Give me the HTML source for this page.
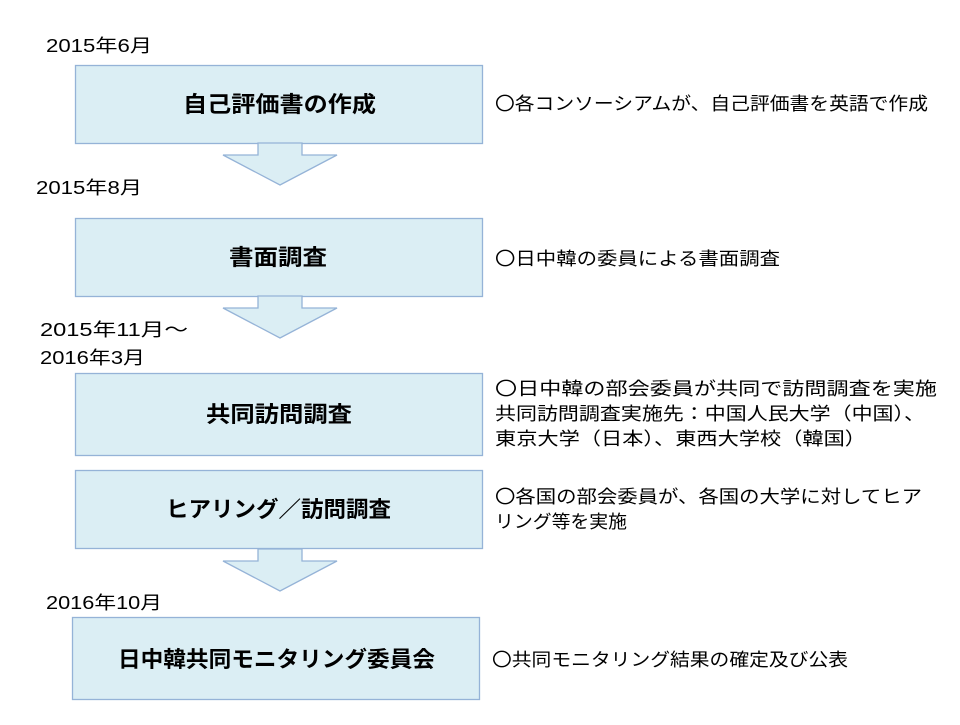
<!DOCTYPE html>
<html><head><meta charset="utf-8"><style>
body{margin:0;background:#fff;}
svg text{font-family:"Liberation Sans","Noto Sans CJK JP",sans-serif;}
</style></head><body>
<svg width="960" height="720" xmlns="http://www.w3.org/2000/svg">
<g fill="#dbeef4" stroke="#95b3d7" stroke-width="1.3">
<rect x="75.5" y="65.5" width="407" height="78"/>
<rect x="75.5" y="218.5" width="407" height="78"/>
<rect x="75.5" y="373.5" width="407" height="82"/>
<rect x="75.5" y="470.5" width="407" height="78"/>
<rect x="72.5" y="617.5" width="407" height="82"/>
<polygon points="258,143 302,143 302,155 337,155 280,185 223,155 258,155"/>
<polygon points="258,296 302,296 302,308 337,308 280,338 223,308 258,308"/>
<polygon points="258,549 302,549 302,561 337,561 280,591 223,561 258,561"/>
</g>
<g font-size="18" fill="#000">
<text x="46" y="52" textLength="106" lengthAdjust="spacingAndGlyphs">2015年6月</text>
<text x="36" y="194" textLength="106" lengthAdjust="spacingAndGlyphs">2015年8月</text>
<text x="40" y="336" textLength="148" lengthAdjust="spacingAndGlyphs">2015年11月～</text>
<text x="40" y="364" textLength="105" lengthAdjust="spacingAndGlyphs">2016年3月</text>
<text x="46" y="609" textLength="116" lengthAdjust="spacingAndGlyphs">2016年10月</text>
</g>
<g font-size="22" font-weight="bold" fill="#000">
<text x="183" y="112" textLength="193" lengthAdjust="spacingAndGlyphs">自己評価書の作成</text>
<text x="229" y="265" textLength="98" lengthAdjust="spacingAndGlyphs">書面調査</text>
<text x="206" y="422" textLength="146" lengthAdjust="spacingAndGlyphs">共同訪問調査</text>
<text x="166" y="517" textLength="225" lengthAdjust="spacingAndGlyphs">ヒアリング／訪問調査</text>
<text x="118" y="667" textLength="317" lengthAdjust="spacingAndGlyphs">日中韓共同モニタリング委員会</text>
</g>
<g font-size="18" fill="#000">
<text x="495" y="110" textLength="433" lengthAdjust="spacingAndGlyphs">〇各コンソーシアムが、自己評価書を英語で作成</text>
<text x="495" y="265" textLength="285" lengthAdjust="spacingAndGlyphs">〇日中韓の委員による書面調査</text>
<text x="495" y="395" textLength="442" lengthAdjust="spacingAndGlyphs">〇日中韓の部会委員が共同で訪問調査を実施</text>
<text x="495" y="420" textLength="430" lengthAdjust="spacingAndGlyphs">共同訪問調査実施先：中国人民大学（中国）、</text>
<text x="495" y="445" textLength="371" lengthAdjust="spacingAndGlyphs">東京大学（日本）、東西大学校（韓国）</text>
<text x="495" y="503" textLength="427" lengthAdjust="spacingAndGlyphs">〇各国の部会委員が、各国の大学に対してヒア</text>
<text x="495" y="528" textLength="132" lengthAdjust="spacingAndGlyphs">リング等を実施</text>
<text x="492" y="666" textLength="356" lengthAdjust="spacingAndGlyphs">〇共同モニタリング結果の確定及び公表</text>
</g>
</svg>
</body></html>
